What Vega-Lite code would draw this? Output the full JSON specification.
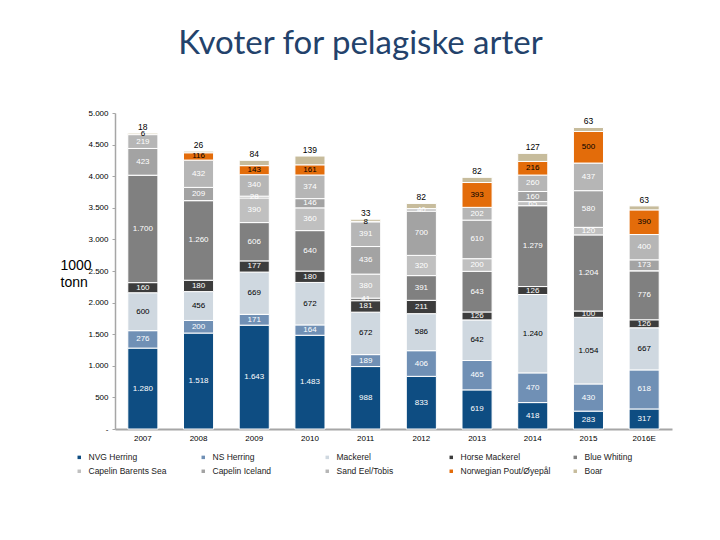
{
  "$schema": "https://vega.github.io/schema/vega-lite/v6.json",
  "width": 557,
  "height": 316,
  "autosize": {"type": "none"},
  "padding": {"left": 115, "top": 113, "right": 48, "bottom": 111},
  "background": "white",
  "config": {"view": {"stroke": null}},
  "title": {"text": "Kvoter for pelagiske arter", "font": "Lato", "fontSize": 33, "fontWeight": "normal", "color": "#23426b", "anchor": "middle", "dx": -33, "offset": 48},
  "data": {"values": [
    {"year": "2007", "species": "NVG Herring", "value": 1280},
    {"year": "2007", "species": "NS Herring", "value": 276},
    {"year": "2007", "species": "Mackerel", "value": 600},
    {"year": "2007", "species": "Horse Mackerel", "value": 160},
    {"year": "2007", "species": "Blue Whiting", "value": 1700},
    {"year": "2007", "species": "Capelin Barents Sea", "value": 0},
    {"year": "2007", "species": "Capelin Iceland", "value": 423},
    {"year": "2007", "species": "Sand Eel/Tobis", "value": 219},
    {"year": "2007", "species": "Norwegian Pout/Øyepål", "value": 6},
    {"year": "2007", "species": "Boar", "value": 18},
    {"year": "2008", "species": "NVG Herring", "value": 1518},
    {"year": "2008", "species": "NS Herring", "value": 200},
    {"year": "2008", "species": "Mackerel", "value": 456},
    {"year": "2008", "species": "Horse Mackerel", "value": 180},
    {"year": "2008", "species": "Blue Whiting", "value": 1260},
    {"year": "2008", "species": "Capelin Barents Sea", "value": 0},
    {"year": "2008", "species": "Capelin Iceland", "value": 209},
    {"year": "2008", "species": "Sand Eel/Tobis", "value": 432},
    {"year": "2008", "species": "Norwegian Pout/Øyepål", "value": 116},
    {"year": "2008", "species": "Boar", "value": 26},
    {"year": "2009", "species": "NVG Herring", "value": 1643},
    {"year": "2009", "species": "NS Herring", "value": 171},
    {"year": "2009", "species": "Mackerel", "value": 669},
    {"year": "2009", "species": "Horse Mackerel", "value": 177},
    {"year": "2009", "species": "Blue Whiting", "value": 606},
    {"year": "2009", "species": "Capelin Barents Sea", "value": 390},
    {"year": "2009", "species": "Capelin Iceland", "value": 28},
    {"year": "2009", "species": "Sand Eel/Tobis", "value": 340},
    {"year": "2009", "species": "Norwegian Pout/Øyepål", "value": 143},
    {"year": "2009", "species": "Boar", "value": 84},
    {"year": "2010", "species": "NVG Herring", "value": 1483},
    {"year": "2010", "species": "NS Herring", "value": 164},
    {"year": "2010", "species": "Mackerel", "value": 672},
    {"year": "2010", "species": "Horse Mackerel", "value": 180},
    {"year": "2010", "species": "Blue Whiting", "value": 640},
    {"year": "2010", "species": "Capelin Barents Sea", "value": 360},
    {"year": "2010", "species": "Capelin Iceland", "value": 146},
    {"year": "2010", "species": "Sand Eel/Tobis", "value": 374},
    {"year": "2010", "species": "Norwegian Pout/Øyepål", "value": 161},
    {"year": "2010", "species": "Boar", "value": 139},
    {"year": "2011", "species": "NVG Herring", "value": 988},
    {"year": "2011", "species": "NS Herring", "value": 189},
    {"year": "2011", "species": "Mackerel", "value": 672},
    {"year": "2011", "species": "Horse Mackerel", "value": 181},
    {"year": "2011", "species": "Blue Whiting", "value": 41},
    {"year": "2011", "species": "Capelin Barents Sea", "value": 380},
    {"year": "2011", "species": "Capelin Iceland", "value": 436},
    {"year": "2011", "species": "Sand Eel/Tobis", "value": 391},
    {"year": "2011", "species": "Norwegian Pout/Øyepål", "value": 8},
    {"year": "2011", "species": "Boar", "value": 33},
    {"year": "2012", "species": "NVG Herring", "value": 833},
    {"year": "2012", "species": "NS Herring", "value": 406},
    {"year": "2012", "species": "Mackerel", "value": 586},
    {"year": "2012", "species": "Horse Mackerel", "value": 211},
    {"year": "2012", "species": "Blue Whiting", "value": 391},
    {"year": "2012", "species": "Capelin Barents Sea", "value": 320},
    {"year": "2012", "species": "Capelin Iceland", "value": 700},
    {"year": "2012", "species": "Sand Eel/Tobis", "value": 40},
    {"year": "2012", "species": "Norwegian Pout/Øyepål", "value": 0},
    {"year": "2012", "species": "Boar", "value": 82},
    {"year": "2013", "species": "NVG Herring", "value": 619},
    {"year": "2013", "species": "NS Herring", "value": 465},
    {"year": "2013", "species": "Mackerel", "value": 642},
    {"year": "2013", "species": "Horse Mackerel", "value": 126},
    {"year": "2013", "species": "Blue Whiting", "value": 643},
    {"year": "2013", "species": "Capelin Barents Sea", "value": 200},
    {"year": "2013", "species": "Capelin Iceland", "value": 610},
    {"year": "2013", "species": "Sand Eel/Tobis", "value": 202},
    {"year": "2013", "species": "Norwegian Pout/Øyepål", "value": 393},
    {"year": "2013", "species": "Boar", "value": 82},
    {"year": "2014", "species": "NVG Herring", "value": 418},
    {"year": "2014", "species": "NS Herring", "value": 470},
    {"year": "2014", "species": "Mackerel", "value": 1240},
    {"year": "2014", "species": "Horse Mackerel", "value": 126},
    {"year": "2014", "species": "Blue Whiting", "value": 1279},
    {"year": "2014", "species": "Capelin Barents Sea", "value": 65},
    {"year": "2014", "species": "Capelin Iceland", "value": 160},
    {"year": "2014", "species": "Sand Eel/Tobis", "value": 260},
    {"year": "2014", "species": "Norwegian Pout/Øyepål", "value": 216},
    {"year": "2014", "species": "Boar", "value": 127},
    {"year": "2015", "species": "NVG Herring", "value": 283},
    {"year": "2015", "species": "NS Herring", "value": 430},
    {"year": "2015", "species": "Mackerel", "value": 1054},
    {"year": "2015", "species": "Horse Mackerel", "value": 100},
    {"year": "2015", "species": "Blue Whiting", "value": 1204},
    {"year": "2015", "species": "Capelin Barents Sea", "value": 120},
    {"year": "2015", "species": "Capelin Iceland", "value": 580},
    {"year": "2015", "species": "Sand Eel/Tobis", "value": 437},
    {"year": "2015", "species": "Norwegian Pout/Øyepål", "value": 500},
    {"year": "2015", "species": "Boar", "value": 63},
    {"year": "2016E", "species": "NVG Herring", "value": 317},
    {"year": "2016E", "species": "NS Herring", "value": 618},
    {"year": "2016E", "species": "Mackerel", "value": 667},
    {"year": "2016E", "species": "Horse Mackerel", "value": 126},
    {"year": "2016E", "species": "Blue Whiting", "value": 776},
    {"year": "2016E", "species": "Capelin Barents Sea", "value": 0},
    {"year": "2016E", "species": "Capelin Iceland", "value": 173},
    {"year": "2016E", "species": "Sand Eel/Tobis", "value": 400},
    {"year": "2016E", "species": "Norwegian Pout/Øyepål", "value": 390},
    {"year": "2016E", "species": "Boar", "value": 63}
  ]},
  "transform": [
    {"calculate": "indexof(['NVG Herring','NS Herring','Mackerel','Horse Mackerel','Blue Whiting','Capelin Barents Sea','Capelin Iceland','Sand Eel/Tobis','Norwegian Pout/Øyepål','Boar'], datum.species)", "as": "k"},
    {"stack": "value", "groupby": ["year"], "sort": [{"field": "k", "order": "ascending"}], "as": ["v0", "v1"]},
    {"calculate": "(datum.v0 + datum.v1) / 2", "as": "vmid"},
    {"calculate": "replace(format(datum.value, ','), ',', '.')", "as": "label"}
  ],
  "encoding": {
    "x": {
      "field": "year", "type": "nominal", "sort": null,
      "scale": {"paddingInner": 0.46, "paddingOuter": 0.23},
      "axis": {"title": null, "labelAngle": 0, "labelFontSize": 8, "labelFont": "Liberation Sans", "labelColor": "#000", "ticks": false, "domainColor": "#a6a6a6", "domainWidth": 2, "labelPadding": 5}
    }
  },
  "layer": [
    {
      "mark": {"type": "bar", "stroke": "white", "strokeWidth": 1},
      "encoding": {
        "y": {
          "field": "v0", "type": "quantitative",
          "scale": {"domain": [0, 5000], "nice": false},
          "axis": {
            "title": ["1000", "tonn"], "titleAngle": 0, "titleAlign": "left", "titleBaseline": "alphabetic",
            "titleX": -55, "titleY": 156, "titleFontSize": 14, "titleFontWeight": "normal", "titleFont": "Liberation Sans", "titleColor": "#000", "titleLineHeight": 17,
            "values": [0, 500, 1000, 1500, 2000, 2500, 3000, 3500, 4000, 4500, 5000],
            "labelOverlap": false,
            "labelExpr": "datum.value == 0 ? '-' : replace(format(datum.value, ','), ',', '.')",
            "labelFontSize": 8, "labelFont": "Liberation Sans", "labelColor": "#000", "labelPadding": 4,
            "tickSize": 3, "tickColor": "#a6a6a6", "domainColor": "#a6a6a6", "domainWidth": 1.5, "grid": false
          }
        },
        "y2": {"field": "v1"},
        "color": {
          "field": "species", "type": "nominal",
          "scale": {
            "domain": ["NVG Herring", "NS Herring", "Mackerel", "Horse Mackerel", "Blue Whiting", "Capelin Barents Sea", "Capelin Iceland", "Sand Eel/Tobis", "Norwegian Pout/Øyepål", "Boar"],
            "range": ["#0e4d82", "#7090b5", "#cfd8e0", "#3c3c3c", "#808080", "#c0c0c0", "#a3a3a3", "#b6b6b6", "#e36c0a", "#c7bc9c"]
          },
          "legend": {
            "title": null, "orient": "none", "legendX": -40, "legendY": 340, "direction": "horizontal", "columns": 5, "gridAlign": "all",
            "columnPadding": 20, "rowPadding": 5, "symbolType": "square", "symbolSize": 12, "symbolStrokeWidth": 0,
            "labelFontSize": 8.5, "labelFont": "Liberation Sans", "labelColor": "#222", "labelOffset": 5
          }
        }
      }
    },
    {
      "transform": [{"filter": "datum.value > 0 && datum.species != 'Boar'"}],
      "mark": {"type": "text", "fontSize": 8, "font": "Liberation Sans"},
      "encoding": {
        "y": {
          "field": "vmid", "type": "quantitative",
          "axis": {
            "title": ["1000", "tonn"], "titleAngle": 0, "titleAlign": "left", "titleBaseline": "alphabetic",
            "titleX": -55, "titleY": 156, "titleFontSize": 14, "titleFontWeight": "normal", "titleFont": "Liberation Sans", "titleColor": "#000", "titleLineHeight": 17,
            "values": [0, 500, 1000, 1500, 2000, 2500, 3000, 3500, 4000, 4500, 5000],
            "labelOverlap": false,
            "labelExpr": "datum.value == 0 ? '-' : replace(format(datum.value, ','), ',', '.')",
            "labelFontSize": 8, "labelFont": "Liberation Sans", "labelColor": "#000", "labelPadding": 4,
            "tickSize": 3, "tickColor": "#a6a6a6", "domainColor": "#a6a6a6", "domainWidth": 1.5, "grid": false
          }
        },
        "text": {"field": "label"},
        "color": {"condition": {"test": "datum.species == 'Mackerel' || datum.species == 'Norwegian Pout/Øyepål' || datum.value < 15", "value": "#000"}, "value": "#fff"}
      }
    },
    {
      "transform": [{"filter": "datum.species == 'Boar'"}],
      "mark": {"type": "text", "fontSize": 8.5, "font": "Liberation Sans", "baseline": "bottom", "dy": -1},
      "encoding": {
        "y": {
          "field": "v1", "type": "quantitative",
          "axis": {
            "title": ["1000", "tonn"], "titleAngle": 0, "titleAlign": "left", "titleBaseline": "alphabetic",
            "titleX": -55, "titleY": 156, "titleFontSize": 14, "titleFontWeight": "normal", "titleFont": "Liberation Sans", "titleColor": "#000", "titleLineHeight": 17,
            "values": [0, 500, 1000, 1500, 2000, 2500, 3000, 3500, 4000, 4500, 5000],
            "labelOverlap": false,
            "labelExpr": "datum.value == 0 ? '-' : replace(format(datum.value, ','), ',', '.')",
            "labelFontSize": 8, "labelFont": "Liberation Sans", "labelColor": "#000", "labelPadding": 4,
            "tickSize": 3, "tickColor": "#a6a6a6", "domainColor": "#a6a6a6", "domainWidth": 1.5, "grid": false
          }
        },
        "text": {"field": "label"},
        "color": {"value": "#000"}
      }
    }
  ]
}
